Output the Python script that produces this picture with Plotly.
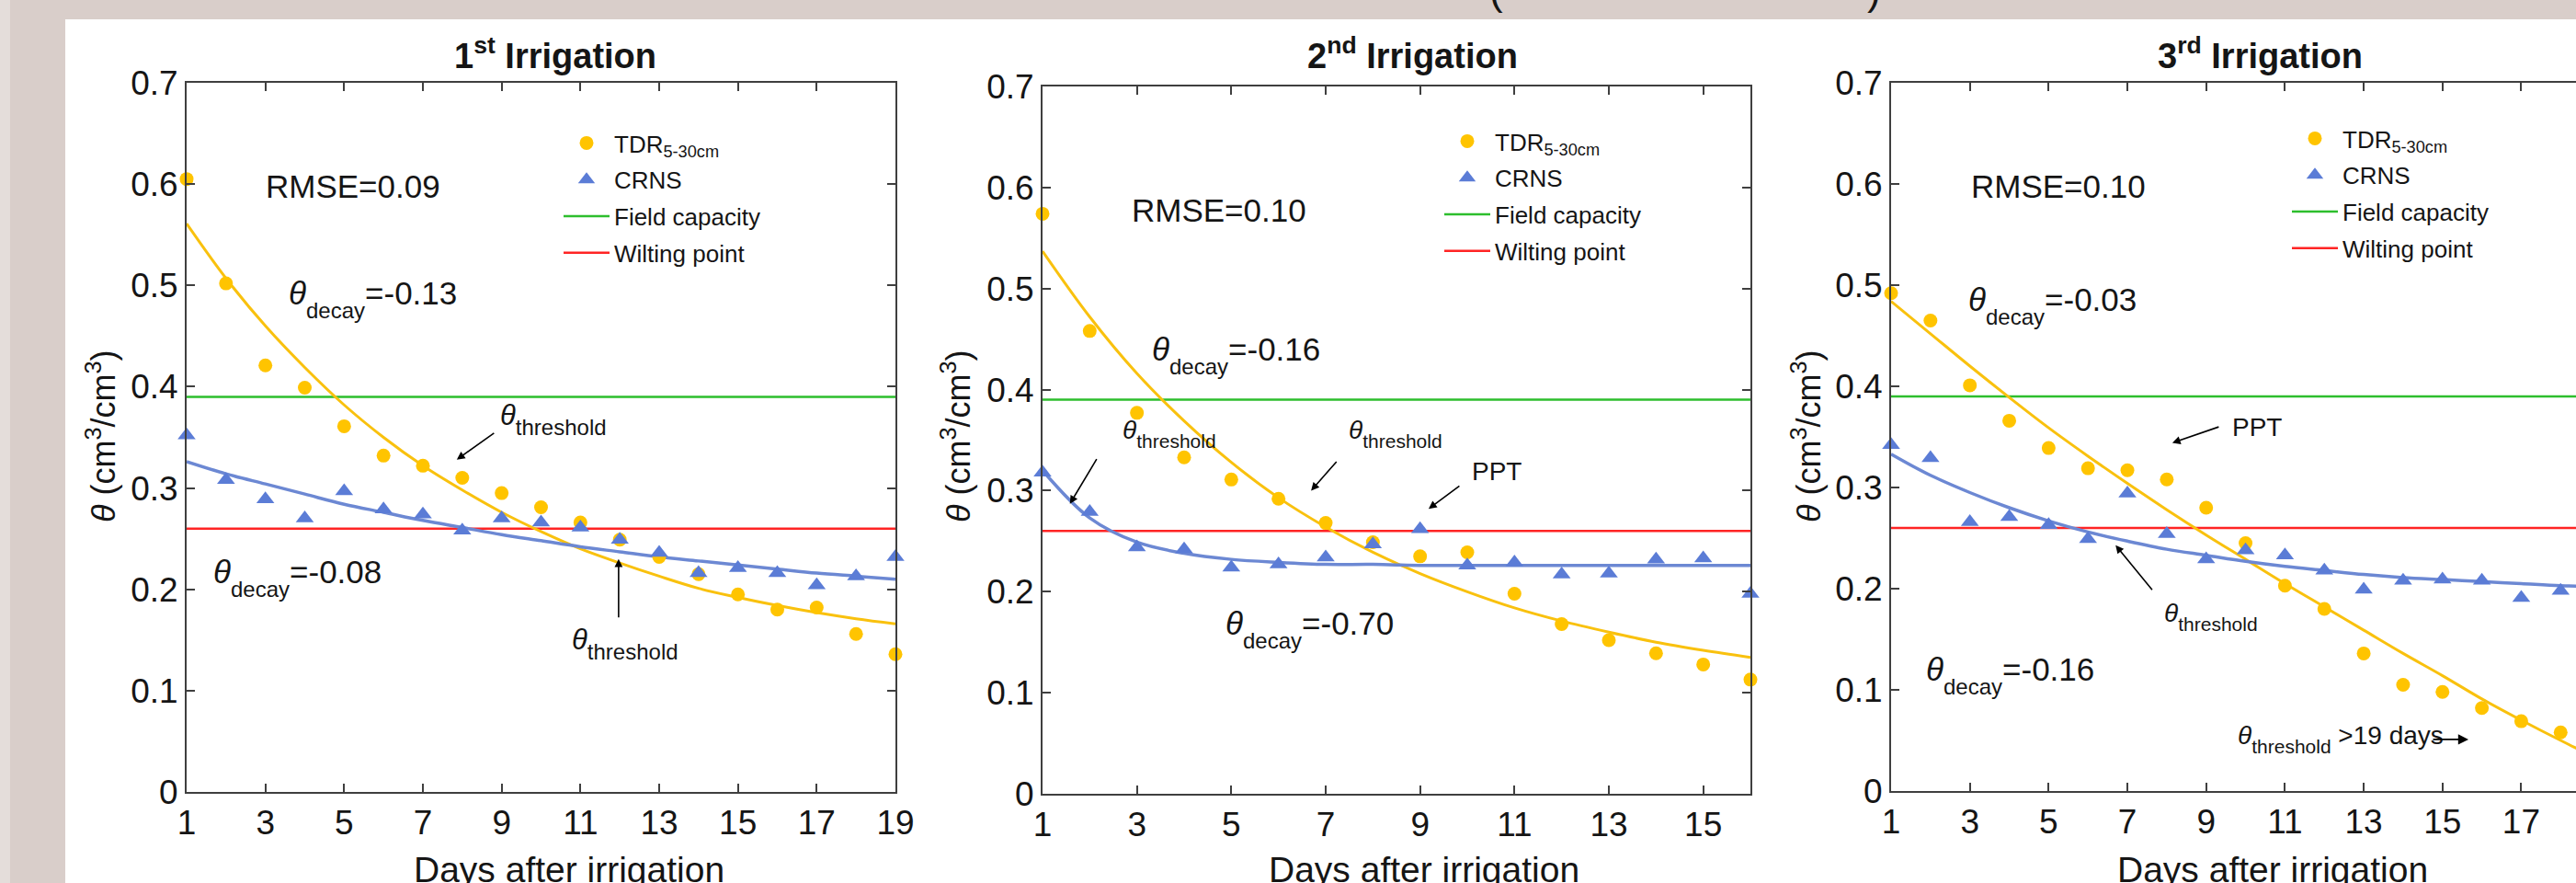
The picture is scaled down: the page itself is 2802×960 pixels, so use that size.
import plotly.graph_objects as go

W, H = 2802, 960
FONT = "Liberation Sans, Arial, Helvetica, sans-serif"

# ---------------- data ----------------
days1 = list(range(1, 20))
tdr1 = [0.605, 0.502, 0.421, 0.399, 0.361, 0.332, 0.322, 0.310, 0.295, 0.281,
        0.266, 0.249, 0.232, 0.215, 0.195, 0.180, 0.182, 0.156, 0.136]
crns1 = [0.352, 0.308, 0.289, 0.270, 0.297, 0.279, 0.274, 0.258, 0.270, 0.266,
         0.261, 0.249, 0.236, 0.216, 0.221, 0.216, 0.204, 0.213, 0.232]
tdr_fit1 = [0.561, 0.507, 0.460, 0.419, 0.382, 0.350, 0.322, 0.298, 0.276, 0.257,
            0.240, 0.226, 0.213, 0.201, 0.192, 0.184, 0.177, 0.171, 0.166]
crns_fit1 = [0.326, 0.314, 0.304, 0.294, 0.284, 0.276, 0.268, 0.261, 0.254, 0.248,
             0.242, 0.237, 0.232, 0.228, 0.224, 0.220, 0.216, 0.213, 0.210]

days2 = list(range(1, 17))
tdr2 = [0.574, 0.458, 0.377, 0.333, 0.311, 0.292, 0.268, 0.249, 0.235, 0.239,
        0.198, 0.168, 0.152, 0.139, 0.128, 0.113]
crns2 = [0.318, 0.279, 0.244, 0.242, 0.224, 0.227, 0.234, 0.247, 0.262, 0.226,
         0.229, 0.217, 0.218, 0.232, 0.233, 0.198]
tdr_fit2 = [0.537, 0.472, 0.416, 0.369, 0.328, 0.293, 0.264, 0.239, 0.218, 0.200,
            0.184, 0.171, 0.160, 0.150, 0.142, 0.135]
crns_fit2 = [0.320, 0.273, 0.249, 0.238, 0.232, 0.229, 0.227, 0.227, 0.226, 0.226,
             0.226, 0.226, 0.226, 0.226, 0.226, 0.226]

days3 = list(range(1, 19))
days3_fit = list(range(1, 20))
tdr3 = [0.492, 0.465, 0.401, 0.366, 0.339, 0.319, 0.317, 0.308, 0.280, 0.245,
        0.203, 0.180, 0.136, 0.105, 0.098, 0.082, 0.069, 0.058]
crns3 = [0.342, 0.329, 0.266, 0.271, 0.263, 0.249, 0.294, 0.254, 0.229, 0.238,
         0.233, 0.218, 0.199, 0.208, 0.209, 0.208, 0.191, 0.198]
tdr_fit3 = [0.484, 0.452, 0.420, 0.389, 0.359, 0.331, 0.304, 0.278, 0.253, 0.229,
            0.205, 0.182, 0.159, 0.136, 0.114, 0.091, 0.070, 0.050, 0.031]
crns_fit3 = [0.333, 0.312, 0.295, 0.280, 0.267, 0.256, 0.247, 0.239, 0.233, 0.227,
             0.222, 0.218, 0.214, 0.211, 0.209, 0.207, 0.205, 0.203, 0.202]

field_capacity = 0.39
wilting_point = 0.26

titles = ["1<sup>st</sup> Irrigation", "2<sup>nd</sup> Irrigation", "3<sup>rd</sup> Irrigation"]
rmse_labels = ["RMSE=0.09", "RMSE=0.10", "RMSE=0.10"]
decay_tdr = ["-0.13", "-0.16", "-0.03"]
decay_crns = ["-0.08", "-0.70", "-0.16"]
y_ticks = [0, 0.1, 0.2, 0.3, 0.4, 0.5, 0.6, 0.7]

# ---------------- styles ----------------
YEL = "#FFC400"
YEL_LINE = "#F9C10E"
BLUE = "#5B7CD6"
BLUE_LINE = "#6C88D3"
GREEN = "#2DBE2D"
RED = "#FF2424"
AX = "#3f3f3f"
TXT = "#151515"

panels = [
    dict(days=days1, fdays=days1, tdr=tdr1, crns=crns1, tf=tdr_fit1, cf=crns_fit1,
         xd=[203 / W, 974 / W], yd=[1 - 861 / H, 1 - 90 / H], xr=[1, 19], hx=[1, 19]),
    dict(days=days2, fdays=days2, tdr=tdr2, crns=crns2, tf=tdr_fit2, cf=crns_fit2,
         xd=[1134 / W, 1904 / W], yd=[1 - 863 / H, 1 - 94 / H], xr=[1, 16], hx=[1, 16]),
    dict(days=days3, fdays=days3_fit, tdr=tdr3, crns=crns3, tf=tdr_fit3, cf=crns_fit3,
         xd=[2057 / W, 1.0], yd=[1 - 860 / H, 1 - 90 / H], xr=[1, 18.39], hx=[1, 19]),
]

fig = go.Figure()
for i, p in enumerate(panels):
    sx = "" if i == 0 else str(i + 1)
    xa, ya = "x" + sx, "y" + sx
    lg = "legend" + sx
    hx = p["hx"]
    fig.add_trace(go.Scatter(x=hx, y=[field_capacity] * 2, mode="lines", name="Field capacity",
                             line=dict(color=GREEN, width=2.5), xaxis=xa, yaxis=ya, legend=lg,
                             legendgroup="fc" + sx, legendrank=3))
    fig.add_trace(go.Scatter(x=hx, y=[wilting_point] * 2, mode="lines", name="Wilting point",
                             line=dict(color=RED, width=2.5), xaxis=xa, yaxis=ya, legend=lg,
                             legendgroup="wp" + sx, legendrank=4))
    fig.add_trace(go.Scatter(x=p["fdays"], y=p["tf"], mode="lines", showlegend=False,
                             line=dict(color=YEL_LINE, width=3, shape="spline", smoothing=1),
                             xaxis=xa, yaxis=ya))
    fig.add_trace(go.Scatter(x=p["fdays"], y=p["cf"], mode="lines", showlegend=False,
                             line=dict(color=BLUE_LINE, width=3.5, shape="spline", smoothing=1),
                             xaxis=xa, yaxis=ya))
    fig.add_trace(go.Scatter(x=p["days"], y=p["tdr"], mode="markers", name="TDR<sub>5-30cm</sub>",
                             marker=dict(symbol="circle", size=15, color=YEL), cliponaxis=False,
                             xaxis=xa, yaxis=ya, legend=lg, legendgroup="tdr" + sx, legendrank=1))
    fig.add_trace(go.Scatter(x=p["days"], y=p["crns"], mode="markers", name="CRNS",
                             marker=dict(symbol="triangle-up", size=17, color=BLUE), cliponaxis=False,
                             xaxis=xa, yaxis=ya, legend=lg, legendgroup="crns" + sx, legendrank=2))

    axis_common = dict(showgrid=False, zeroline=False, showline=True, linecolor=AX, linewidth=2,
                       ticks="inside", ticklen=9, tickwidth=1.5, tickcolor=AX, automargin=False,
                       tickfont=dict(family=FONT, size=37, color=TXT))
    fig.update_layout(**{
        "xaxis" + sx: dict(domain=p["xd"], range=p["xr"], tickvals=list(range(1, 20, 2)),
                           mirror="ticks", anchor=ya, **axis_common),
        "yaxis" + sx: dict(domain=p["yd"], range=[0, 0.7], tickvals=y_ticks,
                           mirror=("ticks" if i < 2 else False), anchor=xa, **axis_common),
    })

legend_common = dict(font=dict(family=FONT, size=26, color=TXT), bgcolor="rgba(0,0,0,0)",
                     xanchor="left", yanchor="top", tracegroupgap=3, itemwidth=50)
fig.update_layout(
    legend=dict(x=608 / W, y=1 - 132 / H, **legend_common),
    legend2=dict(x=1566 / W, y=1 - 130 / H, **legend_common),
    legend3=dict(x=2488 / W, y=1 - 127 / H, **legend_common),
)

ann = []


def label(xref, yref, x, y, text, size, xanchor="left", yanchor="middle", angle=0):
    ann.append(dict(xref=xref, yref=yref, x=x, y=y, text=text, showarrow=False,
                    xanchor=xanchor, yanchor=yanchor, textangle=angle,
                    font=dict(family=FONT, size=size, color=TXT)))


def arrow(xref, yref, x, y, ax, ay, size=1.1):
    ann.append(dict(xref=xref, yref=yref, x=x, y=y, ax=ax, ay=ay, text="", showarrow=True,
                    arrowhead=2, arrowsize=size, arrowwidth=1.6, arrowcolor="black"))


def decay(val):
    return ("<i>θ</i><sub><span style='font-size:24px;baseline-shift:-8px'>decay</span></sub>="
            + val)


def thresh(sub_px):
    return ("<i>θ</i><sub><span style='font-size:%dpx;baseline-shift:-4px'>threshold</span></sub>"
            % sub_px)


# titles, axis titles
title_x = [604, 1536, 2458]
ytitle_x = [110, 1040, 1965]
xtitle_x = [619, 1549, 2472]
for i in range(3):
    label("paper", "paper", title_x[i] / W, 1 - 58 / H, "<b>" + titles[i] + "</b>", 38, "center")
    label("paper", "paper", ytitle_x[i] / W, 1 - 474 / H,
          "<i>θ</i> (cm<sup>3</sup>/cm<sup>3</sup>)", 36, "center", "middle", -90)
    label("paper", "paper", xtitle_x[i] / W, 1 - 945 / H, "Days after irrigation", 39, "center")

# panel 1
label("x", "y", 2.96, 0.598, rmse_labels[0], 35)
label("x", "y", 3.55, 0.487, decay(decay_tdr[0]), 35)
label("x", "y", 8.91, 0.368, thresh(24), 31)
arrow("x", "y", 7.86, 0.328, 42, -30)
label("x", "y", 12.14, 0.146, thresh(24), 31, "center")
arrow("x", "y", 11.97, 0.230, 0, 65)
label("x", "y", 1.63, 0.212, decay(decay_crns[0]), 35)
# panel 2
label("x2", "y2", 2.85, 0.578, rmse_labels[1], 35)
label("x2", "y2", 3.28, 0.434, decay(decay_tdr[1]), 35)
label("x2", "y2", 2.66, 0.356, thresh(21), 28)
arrow("x2", "y2", 1.58, 0.287, 30, -50)
label("x2", "y2", 7.45, 0.356, thresh(21), 28)
arrow("x2", "y2", 6.69, 0.300, 29, -33)
label("x2", "y2", 10.06, 0.3195, "PPT", 28)
arrow("x2", "y2", 9.18, 0.282, 35, -26)
label("x2", "y2", 4.84, 0.163, decay(decay_crns[1]), 35)
# panel 3
label("x3", "y3", 2.98, 0.598, rmse_labels[2], 35)
label("x3", "y3", 2.91, 0.480, decay(decay_tdr[2]), 35)
label("x3", "y3", 9.62, 0.360, "PPT", 28)
arrow("x3", "y3", 8.14, 0.344, 52, -18)
label("x3", "y3", 7.89, 0.172, thresh(21), 28)
arrow("x3", "y3", 6.70, 0.243, 41, 50)
label("x3", "y3", 1.84, 0.115, decay(decay_crns[2]), 35)
label("x3", "y3", 9.76, 0.051, thresh(21) + " >19 days", 28)
arrow("x3", "y3", 15.66, 0.051, -40, 0, 1.4)

# cut caption fragments in the top band
label("paper", "paper", 1627 / W, 1 - 16 / H, "(", 44, "center", "bottom")
label("paper", "paper", 2038 / W, 1 - 16 / H, ")", 44, "center", "bottom")

BAND = "#D9CECA"
shapes = [
    dict(type="rect", xref="paper", yref="paper", x0=0, x1=1, y0=1 - 21 / H, y1=1,
         fillcolor=BAND, line=dict(width=0), layer="below"),
    dict(type="rect", xref="paper", yref="paper", x0=0, x1=71 / W, y0=0, y1=1,
         fillcolor=BAND, line=dict(width=0), layer="below"),
    dict(type="rect", xref="paper", yref="paper", x0=0, x1=11 / W, y0=0, y1=1,
         fillcolor="#E4DDDA", line=dict(width=0), layer="below"),
]

fig.update_layout(width=W, height=H, margin=dict(l=0, r=0, t=0, b=0, pad=0, autoexpand=False),
                  paper_bgcolor="white", plot_bgcolor="white",
                  annotations=ann, shapes=shapes,
                  font=dict(family=FONT, color=TXT))

fig.write_html("out.html", config={"displayModeBar": False},
               post_script="document.body.style.margin='0';document.body.style.overflow='hidden';")
